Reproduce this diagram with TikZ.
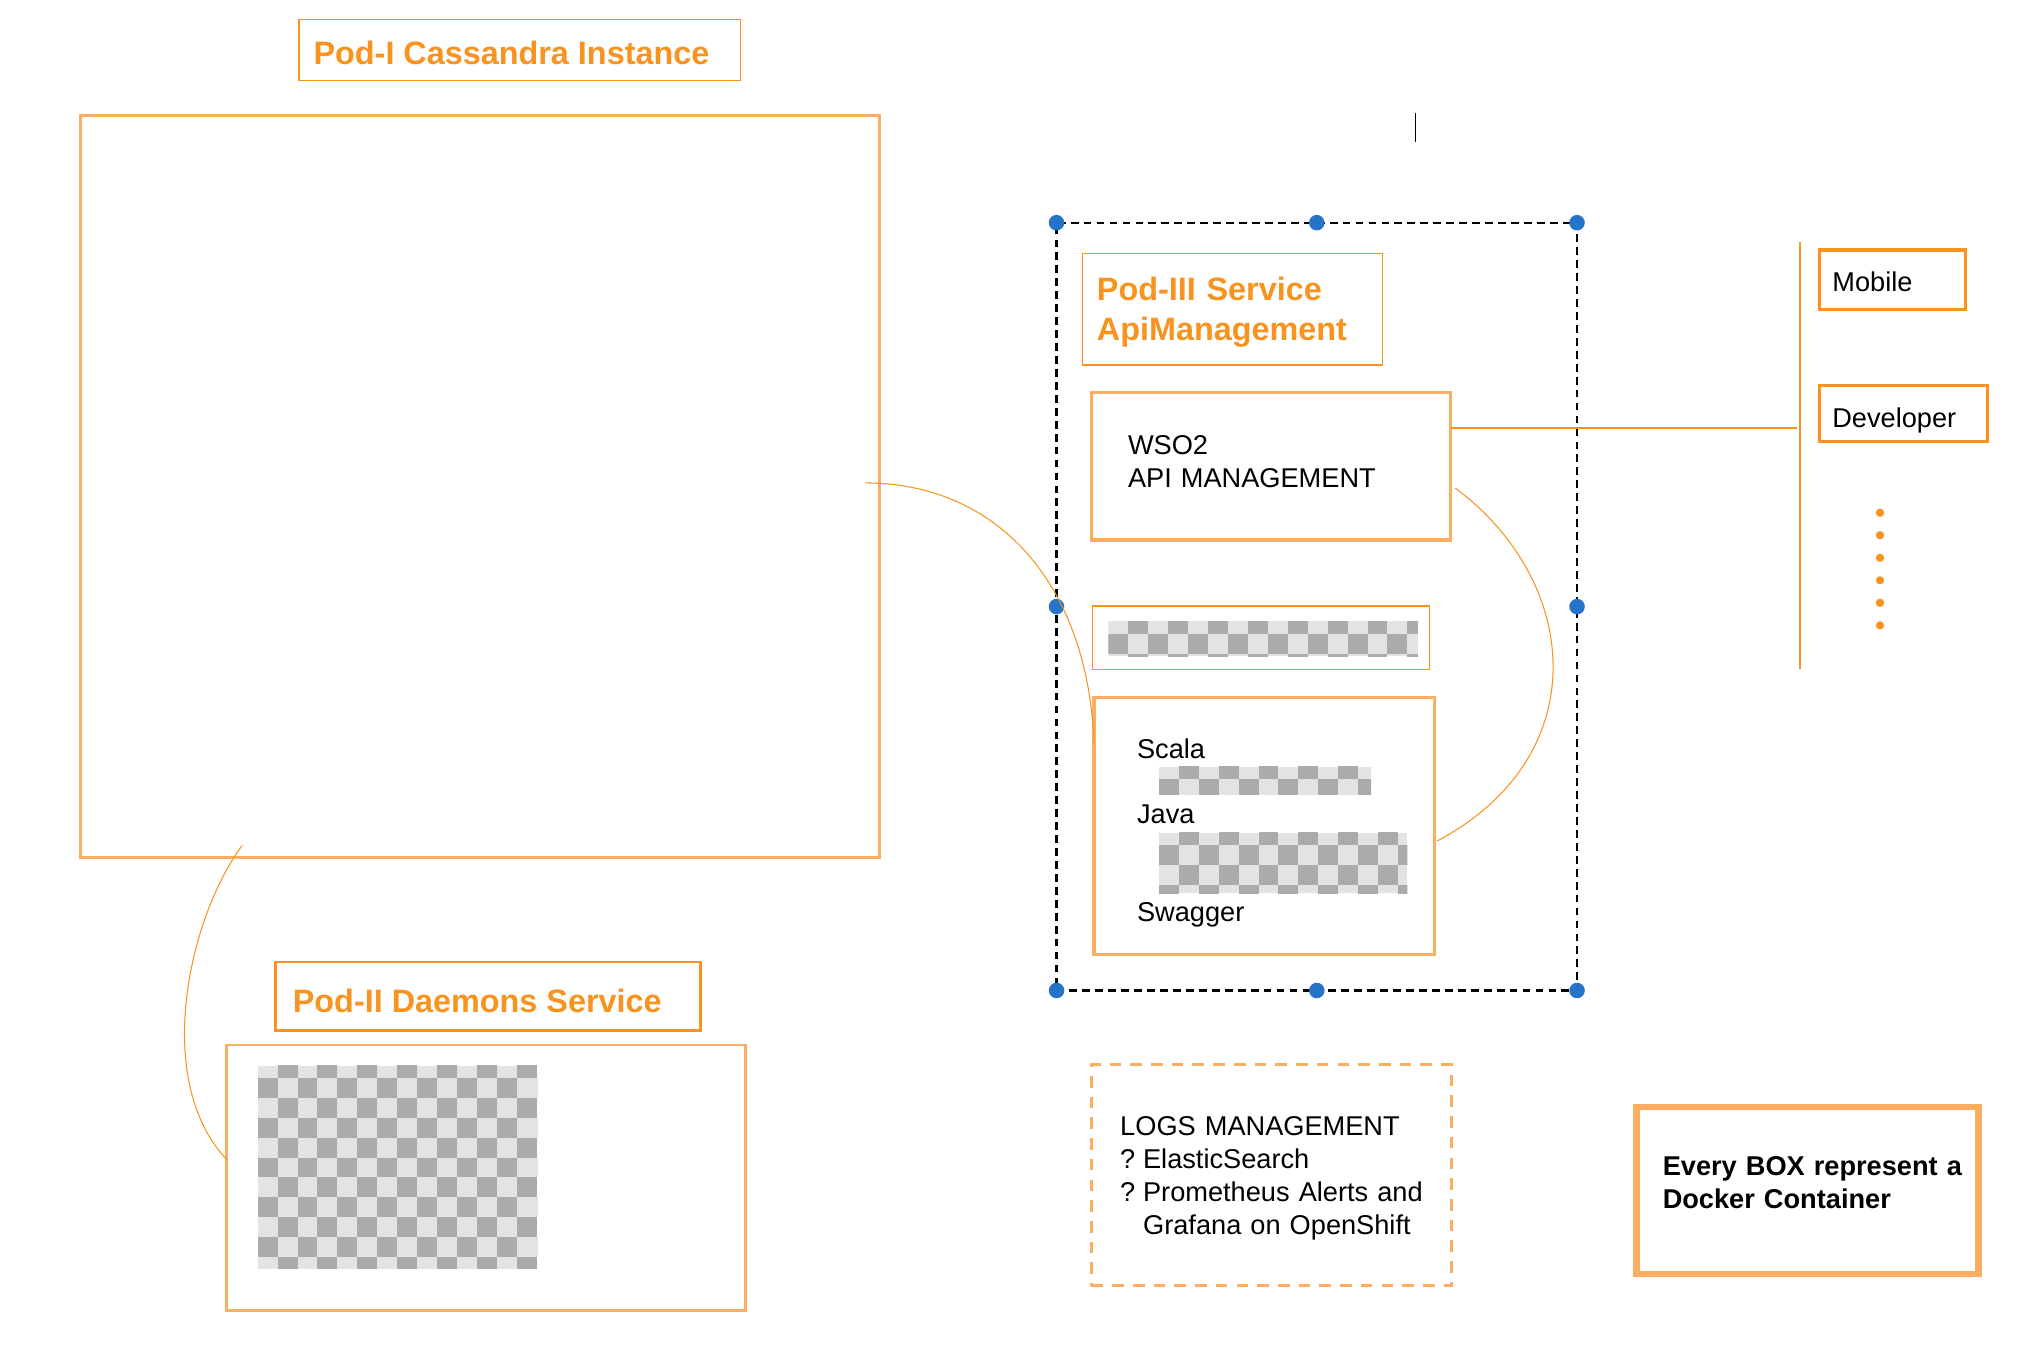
\documentclass[tikz,border=0pt]{standalone}
\usepackage{fontspec}
\setmainfont{Liberation Sans}
\usepackage{tikz}

\definecolor{podorange}{HTML}{F7931E}
\definecolor{boxorange}{HTML}{FBAD62}
\definecolor{handleblue}{HTML}{2574C9}
\definecolor{chklight}{HTML}{E3E3E3}
\definecolor{chkdark}{HTML}{ABABAB}

\newcommand\chkimg[4]{%
  \begin{scope}
    \clip (#1,#2) rectangle (#3,#4);
    \fill[chklight] (#1,#2) rectangle (#3,#4);
    \foreach \i in {0,...,16}
      \foreach \j in {0,...,11}{
        \pgfmathtruncatemacro\k{mod(\i+\j,2)}
        \ifnum\k=1 \fill[chkdark] ({#1+15.4*\i},{#2-6+15.4*\j}) rectangle +(15.4,15.4);\fi
      }
  \end{scope}}

\begin{document}
\begin{tikzpicture}[x=1pt,y=-1pt,
  title/.style={text=podorange,font=\fontsize{25}{31}\selectfont\bfseries,inner sep=0pt,anchor=base west},
  txt/.style={font=\fontsize{21}{25.5}\selectfont,inner sep=0pt,anchor=base west},
  box/.style={draw=boxorange,line width=2.5pt,anchor=north west,inner sep=0pt,outer sep=0pt},
  tag/.style={draw=podorange,line width=1pt,anchor=north west,inner sep=0pt,outer sep=0pt},
  wire/.style={podorange,line width=0.8pt}]

    \fill[white] (0,0) rectangle (1569.4,1053.4);

    % Pod-I
    \node[tag,minimum width=341pt,minimum height=47pt] (casslabel) at (231,15) {};
    \node[title] (casstext) at (242,50) {Pod-I Cassandra Instance};
    \node[box,minimum width=617pt,minimum height=573pt] (cassandra) at (62,89) {};

    % Pod-II
    \node[tag,line width=2pt,minimum width=328pt,minimum height=53pt] (daemonlabel) at (213,743) {};
    \node[title] (daemontext) at (226,782) {Pod-II Daemons Service};
    \node[box,line width=2pt,minimum width=401pt,minimum height=205pt] (daemon) at (175,807) {};
    \chkimg{199}{823}{415}{980}

    % Pod-III
    \node[draw=black,dash pattern=on 6pt off 4pt,line width=1.8pt,anchor=north west,inner sep=0pt,outer sep=0pt,
          minimum width=402pt,minimum height=593pt] (pod3) at (816,172) {};
    \node[tag,minimum width=232pt,minimum height=86pt] (pod3label) at (836,196) {};
    \node[title,text width=230pt,align=left] (pod3text) at (847,232) {Pod-III Service\\ApiManagement};
    \node[box,minimum width=277pt,minimum height=114pt] (wso2) at (843,303) {};
    \node[txt,text width=250pt,align=left] (wso2text) at (871,351) {WSO2\\API MANAGEMENT};
    \node[tag,minimum width=260pt,minimum height=49pt] (strip) at (844,468) {};
    \chkimg{856}{480}{1095}{507}
    \node[box,minimum width=263pt,minimum height=198pt] (scala) at (845,539) {};
    \node[txt] (scalatext) at (878,586) {Scala};
    \chkimg{895}{592}{1059}{614}
    \node[txt] (javatext) at (878,636) {Java};
    \chkimg{895}{643}{1087}{690}
    \node[txt] (swaggertext) at (878,712) {Swagger};
    \foreach \a in {north west,north,north east,west,east,south west,south,south east}
      \fill[handleblue] (pod3.\a) circle (6pt);

    % clients
    \coordinate (bustop) at (1390,187);
    \coordinate (busbot) at (1390,517);
    \draw[wire,line width=1.2pt] (bustop) -- (busbot);
    \node[tag,line width=2.5pt,minimum width=113pt,minimum height=46pt] (mobile) at (1405,193) {};
    \node[txt] (mobiletext) at (1415,225) {Mobile};
    \node[tag,line width=2.5pt,minimum width=130pt,minimum height=43pt] (developer) at (1405,298) {};
    \node[txt] (developertext) at (1415,330) {Developer};
    \foreach \k in {0,...,5}
      \fill[podorange] (1452,{396+17.4*\k}) circle (3.2pt);

    % logs and legend
    \node[box,line width=2pt,dash pattern=on 9pt off 7pt,minimum width=278pt,minimum height=171pt] (logs) at (843,822) {};
    \node[txt,text width=260pt,align=left] (logstext) at (865,877)
      {LOGS MANAGEMENT\\?\hspace{6pt}ElasticSearch\\?\hspace{6pt}Prometheus Alerts and\\\hspace*{17.7pt}Grafana on OpenShift};
    \node[box,line width=5pt,minimum width=264pt,minimum height=129pt] (legend) at (1264,855) {};
    \node[txt,font=\fontsize{21}{25}\selectfont\bfseries,text width=240pt,align=left] (legendtext) at (1284,908)
      {Every BOX represent a\\Docker Container};

    \draw[black,line width=1pt] (1093,87) -- (1093,110);

    % connectors
    \coordinate (casout) at (668,373);
    \coordinate (casfoot) at (187,653);
    \draw[wire] (casout) .. controls (770,373) and (840,450) .. (scala.154);
    \draw[wire] (casfoot) .. controls (145,710) and (118,835) .. (daemon.176);
    \draw[wire] (wso2.12) -- ([xshift=-2pt]wso2.12 -| bustop);
    \draw[wire] ([xshift=4pt]wso2.-7) .. controls (1222,450) and (1232,585) .. ([xshift=2pt]scala.-5);

\end{tikzpicture}
\end{document}
